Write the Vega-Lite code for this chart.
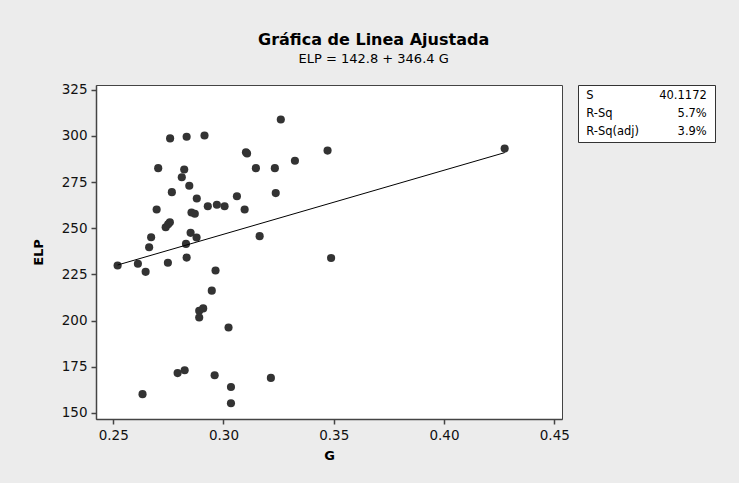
{
  "$schema": "https://vega.github.io/schema/vega-lite/v6.json",
  "background": "#ececec",
  "padding": {"left": 31, "top": 32, "right": 23, "bottom": 20},
  "title": {
    "text": "Gráfica de Linea Ajustada",
    "subtitle": "ELP =  142.8 + 346.4 G",
    "font": "DejaVu Sans",
    "fontSize": 16,
    "fontWeight": "bold",
    "color": "#000000",
    "subtitleFont": "DejaVu Sans",
    "subtitleFontSize": 13,
    "subtitleColor": "#000000",
    "subtitlePadding": 5,
    "offset": 16,
    "anchor": "middle"
  },
  "config": {
    "font": "DejaVu Sans",
    "axis": {
      "grid": false,
      "domainColor": "#444444",
      "domainWidth": 1.5,
      "tickColor": "#444444",
      "tickSize": 5,
      "tickWidth": 1.5,
      "labelFont": "DejaVu Sans",
      "labelFontSize": 13.5,
      "labelColor": "#111111",
      "labelPadding": 4,
      "titleFont": "DejaVu Sans",
      "titleFontSize": 13,
      "titleFontWeight": "bold",
      "titleColor": "#000000"
    },
    "axisX": {"titlePadding": 8},
    "axisY": {"titlePadding": 16}
  },
  "bounds": "flush",
  "spacing": 16,
  "datasets": {
    "points": [
      {"G": 0.2758, "ELP": 298.6},
      {"G": 0.2833, "ELP": 299.5},
      {"G": 0.2914, "ELP": 300.2},
      {"G": 0.3260, "ELP": 308.8},
      {"G": 0.3102, "ELP": 291.1},
      {"G": 0.3107, "ELP": 290.4},
      {"G": 0.2704, "ELP": 282.5},
      {"G": 0.2822, "ELP": 281.8},
      {"G": 0.2811, "ELP": 277.6},
      {"G": 0.3147, "ELP": 282.5},
      {"G": 0.3233, "ELP": 282.5},
      {"G": 0.2845, "ELP": 273.0},
      {"G": 0.2766, "ELP": 269.5},
      {"G": 0.3237, "ELP": 269.0},
      {"G": 0.2879, "ELP": 266.1},
      {"G": 0.2697, "ELP": 260.1},
      {"G": 0.2929, "ELP": 261.9},
      {"G": 0.2970, "ELP": 262.7},
      {"G": 0.3005, "ELP": 261.9},
      {"G": 0.3061, "ELP": 267.3},
      {"G": 0.3096, "ELP": 260.1},
      {"G": 0.2855, "ELP": 258.5},
      {"G": 0.2870, "ELP": 257.8},
      {"G": 0.2757, "ELP": 253.2},
      {"G": 0.2749, "ELP": 252.1},
      {"G": 0.2738, "ELP": 250.5},
      {"G": 0.2851, "ELP": 247.5},
      {"G": 0.3164, "ELP": 245.7},
      {"G": 0.2672, "ELP": 245.1},
      {"G": 0.2878, "ELP": 245.0},
      {"G": 0.2663, "ELP": 239.7},
      {"G": 0.2830, "ELP": 241.5},
      {"G": 0.2833, "ELP": 234.1},
      {"G": 0.2520, "ELP": 229.8},
      {"G": 0.2612, "ELP": 230.8},
      {"G": 0.2647, "ELP": 226.4},
      {"G": 0.2748, "ELP": 231.3},
      {"G": 0.2964, "ELP": 227.1},
      {"G": 0.2947, "ELP": 216.2},
      {"G": 0.2890, "ELP": 205.3},
      {"G": 0.2908, "ELP": 206.6},
      {"G": 0.2890, "ELP": 201.7},
      {"G": 0.3023, "ELP": 196.3},
      {"G": 0.2792, "ELP": 171.6},
      {"G": 0.2824, "ELP": 173.1},
      {"G": 0.2960, "ELP": 170.4},
      {"G": 0.3215, "ELP": 169.0},
      {"G": 0.3034, "ELP": 164.1},
      {"G": 0.2633, "ELP": 160.2},
      {"G": 0.3034, "ELP": 155.3},
      {"G": 0.3472, "ELP": 292.0},
      {"G": 0.3324, "ELP": 286.5},
      {"G": 0.3488, "ELP": 233.9},
      {"G": 0.4275, "ELP": 293.1}
    ],
    "fit": [
      {"G": 0.2520, "ELP": 230.09},
      {"G": 0.4275, "ELP": 290.89}
    ],
    "stats": [
      {"label": "S", "value": "40.1172", "row": 1},
      {"label": "R-Sq", "value": "5.7%", "row": 2},
      {"label": "R-Sq(adj)", "value": "3.9%", "row": 3}
    ]
  },
  "hconcat": [
    {
      "width": 466,
      "height": 334,
      "view": {"fill": "#ffffff", "stroke": "#444444", "strokeWidth": 1},
      "layer": [
        {
          "data": {"name": "points"},
          "mark": {"type": "circle", "size": 66, "color": "#333333", "opacity": 1},
          "encoding": {
            "x": {
              "field": "G",
              "type": "quantitative",
              "title": "G",
              "scale": {"domain": [0.2422, 0.4535], "nice": false, "zero": false},
              "axis": {"values": [0.25, 0.3, 0.35, 0.4, 0.45], "format": ".2f"}
            },
            "y": {
              "field": "ELP",
              "type": "quantitative",
              "title": "ELP",
              "scale": {"domain": [146.75, 327.5], "nice": false, "zero": false},
              "axis": {"values": [150, 175, 200, 225, 250, 275, 300, 325]}
            }
          }
        },
        {
          "data": {"name": "fit"},
          "mark": {"type": "line", "color": "#000000", "strokeWidth": 1},
          "encoding": {
            "x": {"field": "G", "type": "quantitative"},
            "y": {"field": "ELP", "type": "quantitative"}
          }
        }
      ]
    },
    {
      "width": 137,
      "height": 57,
      "view": {"fill": "#ffffff", "stroke": "#333333", "strokeWidth": 1},
      "data": {"name": "stats"},
      "encoding": {
        "y": {
          "field": "row",
          "type": "quantitative",
          "scale": {"domain": [0.389, 3.556], "reverse": true, "nice": false, "zero": false},
          "axis": null
        }
      },
      "layer": [
        {
          "mark": {"type": "text", "align": "left", "baseline": "middle", "fontSize": 11.5, "color": "#000000"},
          "encoding": {
            "x": {"datum": 0.06, "type": "quantitative", "scale": {"domain": [0, 1], "nice": false}, "axis": null},
            "text": {"field": "label"}
          }
        },
        {
          "mark": {"type": "text", "align": "right", "baseline": "middle", "fontSize": 11.5, "color": "#000000"},
          "encoding": {
            "x": {"datum": 0.94, "type": "quantitative"},
            "text": {"field": "value"}
          }
        }
      ]
    }
  ]
}
